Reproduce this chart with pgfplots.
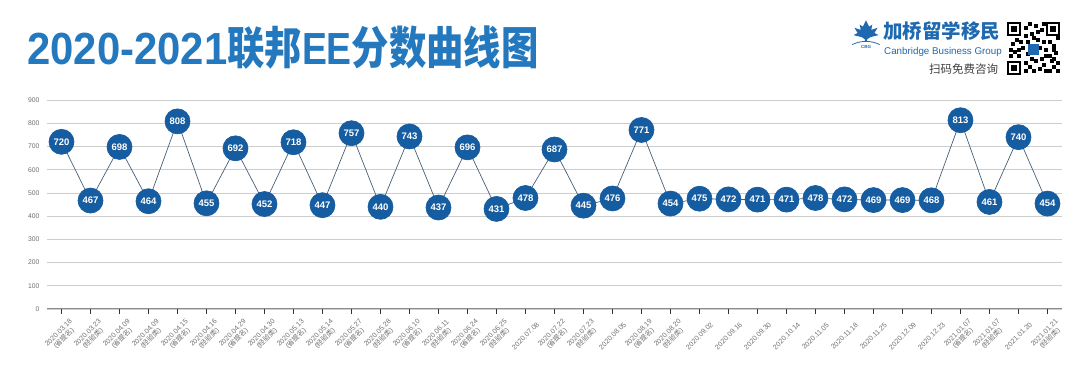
\documentclass[border=0pt]{standalone}
\usepackage{fontspec}
\setmainfont{Liberation Sans}
\newfontfamily\cjk{Noto Sans CJK SC}
\usepackage{graphicx}
\usepackage{pgfplots}
\usepackage{pgfplotstable}
\pgfplotsset{compat=1.18}
\definecolor{titleblue}{RGB}{36,120,190}
\definecolor{dotblue}{RGB}{22,92,160}
\definecolor{lineblue}{RGB}{70,95,120}
\definecolor{logoblue}{RGB}{30,105,175}
\definecolor{gridgray}{RGB}{205,205,205}
\definecolor{textgray}{RGB}{110,110,110}
\newcommand\sx{\\({\cjk 省提名})}
\newcommand\jy{\\({\cjk 经验类})}

\pgfplotstableread{
x y
0 720
1 467
2 698
3 464
4 808
5 455
6 692
7 452
8 718
9 447
10 757
11 440
12 743
13 437
14 696
15 431
16 478
17 687
18 445
19 476
20 771
21 454
22 475
23 472
24 471
25 471
26 478
27 472
28 469
29 469
30 468
31 813
32 461
33 740
34 454
}\eedata

\begin{document}
\begin{tikzpicture}
\useasboundingbox (0pt,0pt) rectangle (1080pt,372pt);
% title
\node[anchor=base west, inner sep=0, text=titleblue] at (27pt,307pt)
  {\fontsize{45}{45}\selectfont\bfseries\scalebox{0.93}[1]{2020-2021}\scalebox{0.83}[1]{{\cjk 联邦}EE{\cjk 分数曲线图}}};
% logo text
\node[anchor=base west, inner sep=0, text=logoblue] at (883pt,333pt)
  {\fontsize{19.5}{20}\selectfont\bfseries\cjk 加桥留学移民};
\node[anchor=base west, inner sep=0, text=logoblue] at (884pt,317pt)
  {\fontsize{9.8}{10}\selectfont Canbridge Business Group};
\node[anchor=base west, inner sep=0, text=black!75] at (929pt,298pt)
  {\fontsize{11.5}{12}\selectfont\cjk 扫码免费咨询};
% maple leaf icon
\begin{scope}[x=1pt,y=1pt,shift={(866,339)}, scale=1.05]
\fill[logoblue] (0,12) -- (3,6) -- (6,8) -- (5,3) -- (11,5) -- (8,0) -- (12,-2) -- (4,-4) -- (1,-6) -- (1,-8) -- (-1,-8) -- (-1,-6) -- (-4,-4) -- (-12,-2) -- (-8,0) -- (-11,5) -- (-5,3) -- (-6,8) -- (-3,6) -- cycle;
\draw[logoblue, line width=0.8pt] (-13,-11) .. controls (-5,-7) and (5,-7) .. (13,-11);
\node[text=logoblue, inner sep=0] at (0,-13.5) {\fontsize{4.5}{5}\selectfont\bfseries CBG};
\end{scope}
% QR code (decorative)
\begin{scope}[x=1pt,y=1pt,shift={(1007,297)}]
\fill[white] (0,0) rectangle (53,53);
\foreach \a/\b in {0/0,0/39,39/39}{
  \fill[black] (\a,\b) rectangle ++(14,14);
  \fill[white] (\a+2,\b+2) rectangle ++(10,10);
  \fill[black] (\a+4,\b+4) rectangle ++(6,6);}
\foreach \a/\b in {17/2,21/6,25/2,31/4,35/8,17/10,27/12,33/14,41/17,47/20,2/17,6/21,10/17,14/25,19/31,29/33,23/39,17/45,27/47,33/43,41/31,45/27,49/35,37/23,4/29,8/33,41/2,45/6,49/10,43/12,19/19,31/25,23/14,37/2,49/2,45/14,2/23,12/31,23/27,35/31,17/37,29/41,35/49,21/49,45/23,25/35,10/23,37/17}{
  \fill[black] (\a,\b) rectangle ++(3.5,3.5);}
\fill[logoblue] (21,20) rectangle (32,31);
\end{scope}
\begin{axis}[
  at={(47pt,63pt)}, anchor=south west,
  scale only axis, width=1015pt, height=209pt,
  xmin=-0.5, xmax=34.5, ymin=0, ymax=900,
  ytick={0,100,...,900},
  xtick={0,1,...,34},
  xticklabels={{2020.03.18\sx},{2020.03.23\jy},{2020.04.09\sx},{2020.04.09\jy},{2020.04.15\sx},{2020.04.16\jy},{2020.04.29\sx},{2020.04.30\jy},{2020.05.13\sx},{2020.05.14\jy},{2020.05.27\sx},{2020.05.28\jy},{2020.06.10\sx},{2020.06.11\jy},{2020.06.24\sx},{2020.06.25\jy},{2020.07.08},{2020.07.22\sx},{2020.07.23\jy},{2020.08.05},{2020.08.19\sx},{2020.08.20\jy},{2020.09.02},{2020.09.16},{2020.09.30},{2020.10.14},{2020.11.05},{2020.11.18},{2020.11.25},{2020.12.09},{2020.12.23},{2021.01.07\sx},{2021.01.07\jy},{2021.01.20},{2021.01.21\jy}},
  axis x line*=bottom, axis y line*=left,
  x axis line style={draw=black!45, line width=1pt, -},
  y axis line style={draw=none},
  ytick style={draw=none},
  xtick style={draw=black!80, line width=0.6pt},
  xtick align=outside, major tick length=5pt,
  ymajorgrids, grid style={gridgray, line width=0.7pt},
  /pgf/number format/assume math mode=true,
  yticklabel style={font=\fontsize{6.8}{7}\selectfont, text=textgray, xshift=-4pt},
  xticklabel style={font=\fontsize{7}{7.5}\selectfont, text=textgray, yshift=-22pt, rotate=45, anchor=center, align=center, inner sep=0pt},
  clip=false,
]
\addplot[color=lineblue, line width=0.7pt, mark=*, mark size=12.5pt,
  mark options={fill=dotblue, draw=dotblue},
  nodes near coords,
  every node near coord/.append style={anchor=center, text=white, font=\bfseries\fontsize{9.5}{10}\selectfont}]
  table[x=x,y=y] {\eedata};
\end{axis}
\end{tikzpicture}
\end{document}
